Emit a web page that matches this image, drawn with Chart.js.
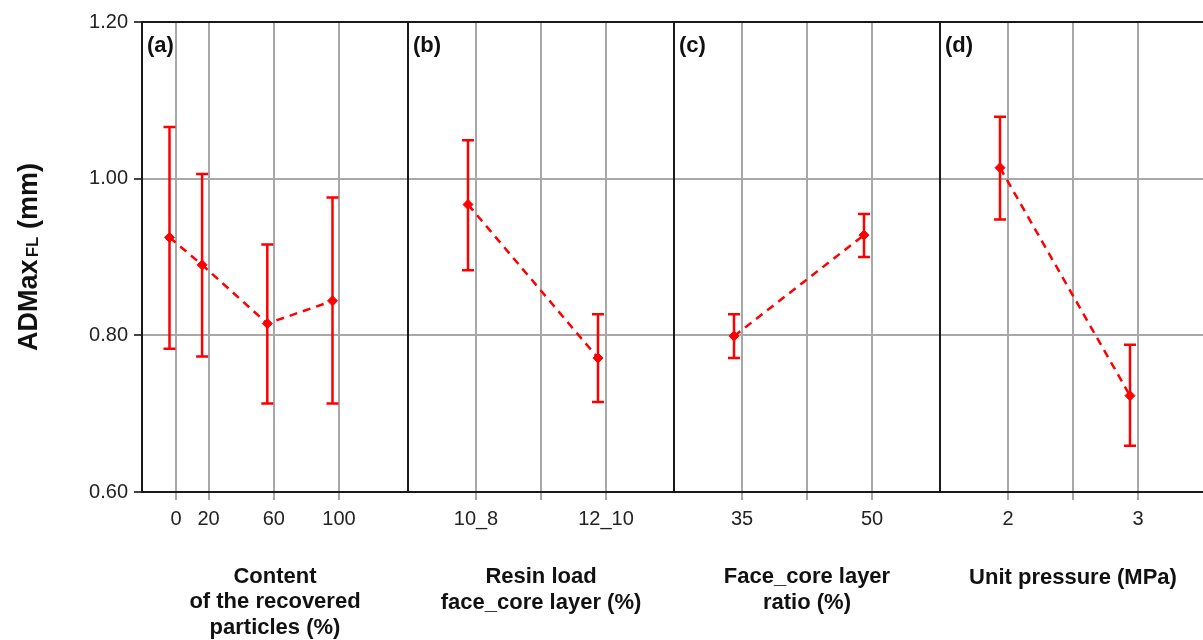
<!DOCTYPE html>
<html><head><meta charset="utf-8">
<script src="https://cdn.jsdelivr.net/npm/chart.js@4.4.1/dist/chart.umd.min.js"></script>
<style>
html,body{margin:0;padding:0;background:#fff;overflow:hidden;width:1203px;height:640px;}
canvas{position:absolute;top:0;}
</style></head><body>
<canvas id="ca" width="420" height="640" style="left:0px"></canvas>
<canvas id="cb" width="286" height="640" style="left:398px"></canvas>
<canvas id="cc" width="286" height="640" style="left:664px"></canvas>
<canvas id="cd" width="286" height="640" style="left:930px"></canvas>
<script>
// ---------- data ----------
const yTicks = [0.60, 0.80, 1.00, 1.20];

const recycledLevels = [0, 20, 60, 100];
const recycledMean  = [0.925, 0.890, 0.815, 0.844];
const recycledLower = [0.783, 0.773, 0.713, 0.713];
const recycledUpper = [1.066, 1.006, 0.916, 0.976];

const resinLabels = ['10_8', '12_10'];
const resinMean  = [0.967, 0.771];
const resinLower = [0.883, 0.715];
const resinUpper = [1.049, 0.827];

const ratioLabels = ['35', '50'];
const ratioMean  = [0.799, 0.928];
const ratioLower = [0.771, 0.900];
const ratioUpper = [0.827, 0.955];

const pressureLabels = ['2', '3'];
const pressureMean  = [1.014, 0.723];
const pressureLower = [0.948, 0.659];
const pressureUpper = [1.079, 0.788];

const panelTags = ['(a)', '(b)', '(c)', '(d)'];
const xTitles = [
  ['Content', 'of the recovered', 'particles (%)'],
  ['Resin load', 'face_core layer (%)'],
  ['Face_core layer', 'ratio (%)'],
  'Unit pressure (MPa)'
];
const yTitleMain = 'ADMax';
const yTitleSub = 'FL';
const yTitleUnit = ' (mm)';

// ---------- style ----------
const FONT = '"Liberation Sans", Arial, sans-serif';
const RED = '#ff0000';
const GRID = '#a8a8a8';

// ---------- plugins ----------
const errorBars = {
  id: 'errorBars',
  afterDatasetsDraw(chart) {
    const ds = chart.data.datasets[0];
    const meta = chart.getDatasetMeta(0);
    const ys = chart.scales.y;
    const ctx = chart.ctx;
    ctx.save();
    ctx.strokeStyle = RED;
    ctx.lineWidth = 2.5;
    ctx.setLineDash([]);
    meta.data.forEach((pt, i) => {
      const x = pt.x;
      const yl = ys.getPixelForValue(ds.errLower[i]);
      const yu = ys.getPixelForValue(ds.errUpper[i]);
      ctx.beginPath();
      ctx.moveTo(x, yu); ctx.lineTo(x, yl);
      ctx.moveTo(x - 6, yu); ctx.lineTo(x + 6, yu);
      ctx.moveTo(x - 6, yl); ctx.lineTo(x + 6, yl);
      ctx.stroke();
    });
    ctx.restore();
  }
};

const frame = {
  id: 'frame',
  beforeDatasetsDraw(chart) {
    const {ctx, chartArea: a} = chart;
    ctx.save();
    ctx.strokeStyle = '#1a1a1a';
    ctx.lineWidth = 2;
    ctx.strokeRect(a.left, a.top, a.right - a.left, a.bottom - a.top);
    ctx.fillStyle = '#111';
    ctx.font = 'bold 22px ' + FONT;
    ctx.textBaseline = 'middle';
    ctx.textAlign = 'left';
    ctx.fillText(chart.config.options.panelTag, a.left + 5, a.top + 24);
    ctx.restore();
  }
};

const yTitle = {
  id: 'yTitle',
  afterDraw(chart) {
    const {ctx, chartArea: a} = chart;
    const main = 'bold 27px ' + FONT;
    const sub = 'bold 17px ' + FONT;
    ctx.save();
    ctx.fillStyle = '#111';
    ctx.translate(0, (a.top + a.bottom) / 2);
    ctx.rotate(-Math.PI / 2);
    ctx.textBaseline = 'alphabetic';
    ctx.textAlign = 'left';
    ctx.font = main;
    const w1 = ctx.measureText(yTitleMain).width;
    const w3 = ctx.measureText(yTitleUnit).width;
    ctx.font = sub;
    const w2 = ctx.measureText(yTitleSub).width;
    let x = -(w1 + w2 + w3 + 2) / 2;
    const base = 37;
    ctx.font = main; ctx.fillText(yTitleMain, x, base); x += w1 + 2;
    ctx.font = sub; ctx.fillText(yTitleSub, x, base + 1); x += w2;
    ctx.font = main; ctx.fillText(yTitleUnit, x, base);
    ctx.restore();
  }
};

// ---------- builder ----------
function makePanel(cfg) {
  const first = cfg.first;
  const data = cfg.xs.map((x, i) => ({x: x, y: cfg.mean[i]}));
  return new Chart(document.getElementById(cfg.id), {
    type: 'line',
    data: {
      datasets: [{
        data: data,
        errLower: cfg.lower,
        errUpper: cfg.upper,
        xAxisID: 'xd',
        yAxisID: 'y',
        borderColor: RED,
        backgroundColor: RED,
        borderWidth: 2.5,
        borderDash: [8, 6],
        pointStyle: 'rectRot',
        pointRadius: 5,
        pointBackgroundColor: RED,
        pointBorderColor: RED,
        pointBorderWidth: 1,
        tension: 0,
        fill: false
      }]
    },
    plugins: first ? [frame, errorBars, yTitle] : [frame, errorBars],
    options: {
      panelTag: cfg.tag,
      responsive: false,
      animation: false,
      devicePixelRatio: 1,
      layout: {padding: {top: 22, bottom: 0, left: first ? 0 : 10, right: first ? 12 : 10}},
      plugins: {legend: {display: false}, tooltip: {enabled: false}},
      scales: {
        x: {
          type: 'linear',
          position: 'bottom',
          min: cfg.xMin, max: cfg.xMax,
          afterBuildTicks: (s) => { s.ticks = cfg.tickPos.map(v => ({value: v})); },
          afterFit: (s) => { s.height = 148; },
          ticks: {
            autoSkip: false,
            maxRotation: 0,
            padding: 7,
            color: '#222',
            font: {family: FONT, size: 20},
            callback: cfg.tickLabel
          },
          grid: {color: GRID, lineWidth: 2, drawTicks: true, tickLength: 8, tickColor: GRID},
          border: {display: false},
          title: {
            display: true,
            text: cfg.title,
            color: '#111',
            font: {family: FONT, size: 22, weight: 'bold', lineHeight: 1.14},
            padding: {top: 0, bottom: cfg.titlePad}
          }
        },
        xd: {
          type: 'linear',
          display: false,
          min: cfg.xMin + cfg.shift, max: cfg.xMax + cfg.shift
        },
        y: {
          type: 'linear',
          position: 'left',
          min: 0.6, max: 1.2,
          afterBuildTicks: (s) => { s.ticks = yTicks.map(v => ({value: v})); },
          afterFit: (s) => { s.width = first ? 142 : 0; },
          ticks: {
            display: first,
            padding: 6,
            color: '#222',
            font: {family: FONT, size: 20},
            callback: (v) => Number(v).toFixed(2)
          },
          grid: {color: GRID, lineWidth: 2, drawTicks: first, tickLength: 8, tickColor: '#444'},
          border: {display: false}
        }
      }
    }
  });
}

// panel (a): numeric levels; 1.63 px per unit, 266 px wide plot
const aMin = -20.86, aMax = 142.33;
makePanel({
  id: 'ca', first: true, tag: panelTags[0],
  xs: recycledLevels, mean: recycledMean, lower: recycledLower, upper: recycledUpper,
  xMin: aMin, xMax: aMax, shift: 3.99,
  tickPos: recycledLevels,
  tickLabel: (v) => String(v),
  title: xTitles[0], titlePad: 0
});

function twoLevel(id, tag, labels, mean, lower, upper, title, pad) {
  const pos = labels.map((_, i) => i + 1);
  makePanel({
    id: id, first: false, tag: tag,
    xs: pos, mean: mean, lower: lower, upper: upper,
    xMin: 0.4769, xMax: 2.5231, shift: 0.0615,
    tickPos: [1, 1.5, 2],
    tickLabel: (v) => { const i = pos.indexOf(v); return i >= 0 ? labels[i] : ''; },
    title: title, titlePad: pad
  });
}
twoLevel('cb', panelTags[1], resinLabels, resinMean, resinLower, resinUpper, xTitles[1], 25);
twoLevel('cc', panelTags[2], ratioLabels, ratioMean, ratioLower, ratioUpper, xTitles[2], 25);
twoLevel('cd', panelTags[3], pressureLabels, pressureMean, pressureLower, pressureUpper, xTitles[3], 50);
</script>
</body></html>
